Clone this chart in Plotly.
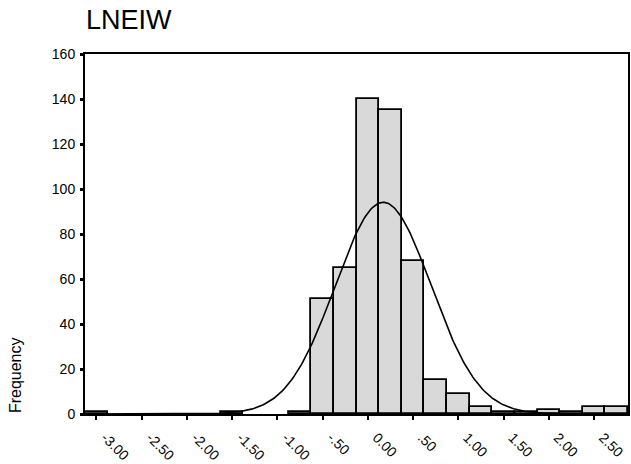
import numpy as np
import plotly.graph_objects as go

# Histogram of LNEIW: bin centres (bin width 0.25) and frequencies
bin_centers = [-3.00, -1.50, -0.75, -0.50, -0.25, 0.00, 0.25, 0.50, 0.75,
               1.00, 1.25, 1.50, 1.75, 2.00, 2.25, 2.50, 2.75]
frequencies = [1, 1, 1, 51, 65, 140, 135, 68, 15,
               9, 3, 1, 1, 2, 1, 3, 3]
bin_width = 0.25

# Normal curve parameters for the overlay
curve_mean = 0.17
curve_sd = 0.53
n_total = sum(frequencies)

tick_values = [-3.0, -2.5, -2.0, -1.5, -1.0, -0.5, 0.0, 0.5, 1.0, 1.5, 2.0, 2.5]
tick_labels = ["-3.00", "-2.50", "-2.00", "-1.50", "-1.00", "-.50",
               "0.00", ".50", "1.00", "1.50", "2.00", "2.50"]
y_ticks = [0, 20, 40, 60, 80, 100, 120, 140, 160]

x_lo, x_hi = -3.125, 2.875
xs = np.linspace(x_lo, x_hi, 400)
ys = n_total * bin_width / (curve_sd * np.sqrt(2 * np.pi)) * np.exp(-0.5 * ((xs - curve_mean) / curve_sd) ** 2)

fig = go.Figure()
fig.add_trace(go.Bar(
    x=bin_centers, y=frequencies, width=bin_width,
    marker=dict(color="#d9d9d9", line=dict(color="black", width=1.8)),
    hoverinfo="x+y",
))
fig.add_trace(go.Scatter(
    x=xs, y=ys, mode="lines",
    line=dict(color="black", width=1.6),
    hoverinfo="skip",
))

font_family = "Liberation Sans, Arial, sans-serif"
fig.update_layout(
    width=631, height=464,
    margin=dict(l=85, r=3, t=54, b=50),
    paper_bgcolor="white", plot_bgcolor="white",
    showlegend=False,
    bargap=0,
    font=dict(family=font_family, size=14, color="black"),
    xaxis=dict(
        range=[x_lo, x_hi], tickmode="array", tickvals=tick_values, ticktext=tick_labels,
        tickangle=45, ticks="outside", ticklen=4, tickwidth=2, tickcolor="black",
        ticklabelstandoff=4, ticklabelshift=9, automargin=False,
        showline=True, linecolor="black", linewidth=2, mirror=True,
        showgrid=False, zeroline=False, tickfont=dict(size=14),
    ),
    yaxis=dict(
        range=[0, 160], tickmode="array", tickvals=y_ticks,
        ticks="outside", ticklen=3, tickwidth=3, tickcolor="black",
        ticklabelstandoff=2, automargin=False,
        showline=True, linecolor="black", linewidth=2, mirror=True,
        showgrid=False, zeroline=False, tickfont=dict(size=14),
    ),
    annotations=[
        dict(text="LNEIW", xref="paper", yref="paper", x=-0.002, y=1.095,
             xanchor="left", yanchor="middle", showarrow=False,
             font=dict(size=27, family=font_family)),
        dict(text="Frequency", xref="paper", yref="paper", x=-0.129, y=0.108,
             xanchor="center", yanchor="middle", textangle=-90, showarrow=False,
             font=dict(size=16, family=font_family)),
    ],
)

fig.write_html("out.html")
